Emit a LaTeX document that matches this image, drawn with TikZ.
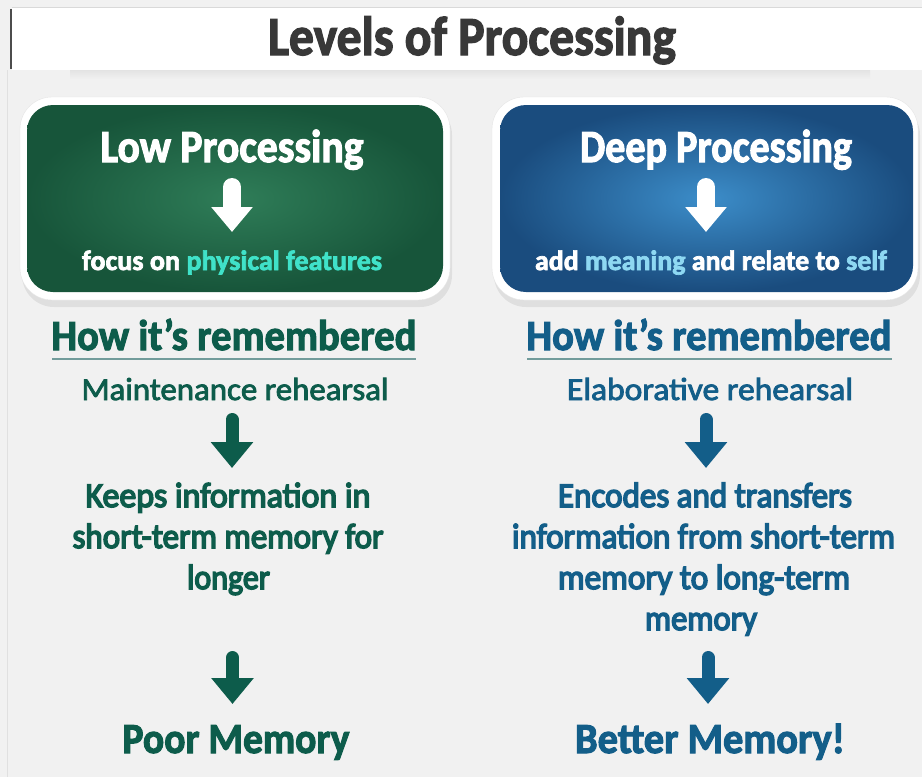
\documentclass[tikz,border=0pt]{standalone}
\usepackage{fontspec}
\setmainfont{Carlito}
\newfontfamily\medfont[FakeBold=2.5]{Carlito}
\newfontfamily\semifont[FakeBold=4.5]{Carlito}
\newfontfamily\heavyfont[BoldFeatures={FakeBold=2.5}]{Carlito}
\usetikzlibrary{arrows.meta}
\definecolor{bgc}{HTML}{F1F1F1}
\definecolor{titlec}{HTML}{383838}
\definecolor{gtext}{HTML}{0D5C4B}
\definecolor{btext}{HTML}{135E89}
\definecolor{cyanc}{HTML}{40E2C9}
\definecolor{lbluec}{HTML}{8ED8F2}
\definecolor{ginner}{HTML}{2F7D58}
\definecolor{gouter}{HTML}{17553A}
\definecolor{binner}{HTML}{3C8DC9}
\definecolor{bouter}{HTML}{1A4C7E}
\definecolor{ulc}{HTML}{729C9B}
\newcommand\fitw[2]{\resizebox{#1pt}{\height}{#2}}
\tikzset{
  txt/.style={inner sep=0pt, anchor=base},
  boxhead/.style={txt, text=white, font=\heavyfont\fontsize{46}{50}\selectfont\bfseries},
  boxsub/.style={txt, text=white, font=\heavyfont\fontsize{28}{32}\selectfont\bfseries},
  howtxt/.style={txt, font=\heavyfont\fontsize{43}{48}\selectfont\bfseries},
  rehtxt/.style={txt, font=\medfont\fontsize{32}{36}\selectfont},
  bodytxt/.style={txt, font=\semifont\fontsize{35}{40}\selectfont},
  endtxt/.style={txt, font=\heavyfont\fontsize{43}{48}\selectfont\bfseries},
  whitearrow/.style={draw=white, line width=18pt, line cap=round, -{Triangle[width=40pt,length=25pt]}},
  darrow/.style={line width=13pt, line cap=round, -{Triangle[width=41pt,length=26pt]}},
  underl/.style={draw=ulc, line width=2pt},
}
\begin{document}
\begin{tikzpicture}[x=1pt,y=-1pt]
\useasboundingbox (0,0) rectangle (922,777);
\fill[bgc] (0,0) rectangle (922,777);
\draw[black!12, line width=1pt] (7,70) -- (7,777);
% title bar
\shade[top color=black!11, bottom color=bgc] (70,70) rectangle (870,79);
\fill[white] (12,7) rectangle (922,70);
\draw[black!15, line width=1pt] (12,7) -- (922,7);
\draw[black!70, line width=1.2pt] (11,9) -- (11,69);
\node[txt, text=titlec, font=\heavyfont\fontsize{55}{60}\selectfont\bfseries] (title) at (472,55) {\fitw{408}{Levels of Processing}};
% green box
\fill[black, opacity=.07, rounded corners=32] (22,103) rectangle (452,307);
\filldraw[fill=white, draw=black!10, rounded corners=32] (20,97) rectangle (450,300);
\shade[rounded corners=26, inner color=ginner, outer color=gouter] (27,105) rectangle (443,292);
% blue box
\fill[black, opacity=.07, rounded corners=32] (494,103) rectangle (920,307);
\filldraw[fill=white, draw=black!10, rounded corners=32] (492,97) rectangle (918,300);
\shade[rounded corners=26, inner color=binner, outer color=bouter] (500,105) rectangle (913,292);
% box texts
\node[boxhead] (lowh) at (232,162) {\fitw{263}{Low Processing}};
\node[boxsub] (lowf) at (232,270) {\fitw{300}{focus on \textcolor{cyanc}{physical features}}};
\node[boxhead] (deeph) at (716,162) {\fitw{272}{Deep Processing}};
\node[boxsub] (deepf) at (711,270) {\fitw{352}{add \textcolor{lbluec}{meaning} and relate to \textcolor{lbluec}{self}}};
\coordinate (wl1) at (232,187);
\coordinate (wl2) at (232,232);
\coordinate (wr1) at (706,187);
\coordinate (wr2) at (706,232);
\draw[whitearrow] (wl1) -- (wl2);
\draw[whitearrow] (wr1) -- (wr2);
% how it's remembered
\node[howtxt, text=gtext] (hl) at (234,350) {\fitw{365}{How it’s remembered}};
\node[howtxt, text=btext] (hr) at (709,350) {\fitw{365}{How it’s remembered}};
\draw[underl] (52,359) -- (416,359);
\draw[underl] (527,359) -- (892,359);
\node[rehtxt, text=gtext] (ml) at (235,400) {\fitw{307}{Maintenance rehearsal}};
\node[rehtxt, text=btext] (mr) at (710,400) {\fitw{286}{Elaborative rehearsal}};
% first arrows
\coordinate (al1) at (232,419.5);
\coordinate (al2) at (232,468);
\coordinate (ar1) at (706,419.5);
\coordinate (ar2) at (706,468);
\draw[darrow, gtext] (al1) -- (al2);
\draw[darrow, btext] (ar1) -- (ar2);
% body texts
\node[bodytxt, text=gtext] (kl1) at (228,507) {\fitw{285}{Keeps information in}};
\node[bodytxt, text=gtext] (kl2) at (228,548) {\fitw{311}{short-term memory for}};
\node[bodytxt, text=gtext] (kl3) at (228.5,589) {\fitw{83}{longer}};
\node[bodytxt, text=btext] (er1) at (705,507) {\fitw{294}{Encodes and transfers}};
\node[bodytxt, text=btext] (er2) at (703.5,548) {\fitw{383}{information from short-term}};
\node[bodytxt, text=btext] (er3) at (704,589) {\fitw{292}{memory to long-term}};
\node[bodytxt, text=btext] (er4) at (701,630) {\fitw{112}{memory}};
% second arrows
\coordinate (bl1) at (232.5,657.5);
\coordinate (bl2) at (232.5,704);
\coordinate (br1) at (708,657.5);
\coordinate (br2) at (708,704);
\draw[darrow, gtext] (bl1) -- (bl2);
\draw[darrow, btext] (br1) -- (br2);
% results
\node[endtxt, text=gtext] (pm) at (236,753) {\fitw{227}{Poor Memory}};
\node[endtxt, text=btext] (bm) at (710,753) {\fitw{270}{Better Memory!}};
\end{tikzpicture}
\end{document}
